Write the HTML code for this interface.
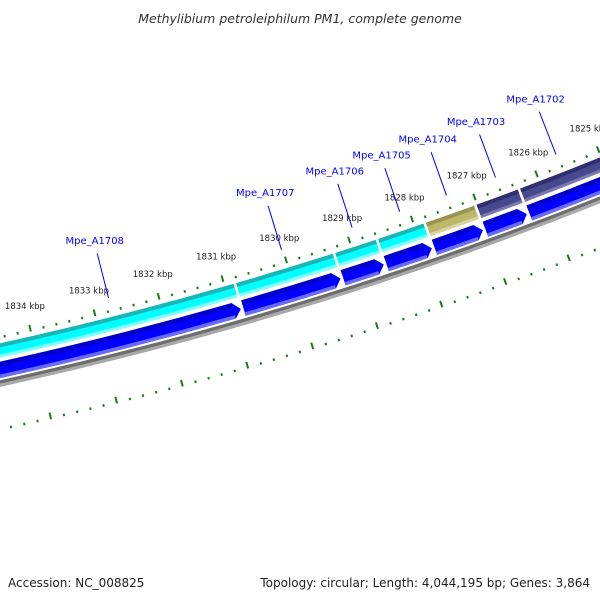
<!DOCTYPE html>
<html><head><meta charset="utf-8"><style>
html,body{margin:0;padding:0;background:#fff;width:600px;height:600px;overflow:hidden}
svg{display:block}
</style></head><body>
<svg id="map" width="600" height="600" viewBox="0 0 600 600" xmlns="http://www.w3.org/2000/svg" font-family="'DejaVu Sans','Liberation Sans',sans-serif">
<text x="300" y="23" text-anchor="middle" font-size="12.5" font-style="italic" fill="#333">Methylibium petroleiphilum PM1, complete genome</text>
<text x="8" y="587" font-size="12" fill="#222">Accession: NC_008825</text>
<text x="590" y="587" text-anchor="end" font-size="12" fill="#222">Topology: circular; Length: 4,044,195 bp; Genes: 3,864</text>
<g id="rings"></g>
</svg>
<script>
// data (kbp)
const geneNames = ['Mpe_A1708','Mpe_A1707','Mpe_A1706','Mpe_A1705','Mpe_A1704','Mpe_A1703','Mpe_A1702'];
const geneStarts = [1834.9, 1830.82, 1829.26, 1828.58, 1827.82, 1827.01, 1826.31];
const geneEnds = [1830.86, 1829.30, 1828.62, 1827.86, 1827.05, 1826.35, 1824.9];
const geneLabelAt = [1832.74, 1830.02, 1828.9, 1828.14, 1827.39, 1826.6, 1825.62];
const geneCategory = ['cyan','cyan','cyan','cyan','olive','purple','purple'];
const tickMajors = [1824,1825,1826,1827,1828,1829,1830,1831,1832,1833,1834,1835,1836];
const tickLabels = ['1824 kbp','1825 kbp','1826 kbp','1827 kbp','1828 kbp','1829 kbp','1830 kbp','1831 kbp','1832 kbp','1833 kbp','1834 kbp','1835 kbp','1836 kbp'];

const CX=-821, CY=-3370;
const NS='http://www.w3.org/2000/svg';
const g=document.getElementById('rings');
function ang(k){return (73.04+(k-1830))*Math.PI/180;}
function pt(k,r){const a=ang(k);return [CX+r*Math.cos(a),CY+r*Math.sin(a)];}
function f(p){return p[0].toFixed(2)+' '+p[1].toFixed(2);}
function sector(k1,k2,r1,r2){
  const a=pt(k1,r1),b=pt(k2,r1),c=pt(k2,r2),d=pt(k1,r2);
  return 'M'+f(a)+' A'+r1+' '+r1+' 0 0 0 '+f(b)+' L'+f(c)+' A'+r2+' '+r2+' 0 0 1 '+f(d)+' Z';
}
function add(tag,attrs,name){
  const el=document.createElementNS(NS,tag);
  for(const k in attrs)el.setAttribute(k,attrs[k]);
  
  
  g.appendChild(el);return el;
}
// backbone
add('path',{d:sector(1836,1823,3839,3842.5),fill:'#6e6e6e'},'backbone-dark');
add('path',{d:sector(1836,1823,3842.5,3845.5),fill:'#a8a8a8'},'backbone-light');
// ticks
function ticks(rDot,ring){
  for(let i=0;i<tickMajors.length-1;i++){
    for(let j=0;j<5;j++){
      const k=tickMajors[i]+j*0.2;
      const major=j===0;
      const r1=major?rDot-5.5:rDot-1.2, r2=rDot+1.3;
      const p1=pt(k,r1),p2=pt(k,r2);
      add('line',{x1:p1[0],y1:p1[1],x2:p2[0],y2:p2[1],stroke:'#1a7a1a','stroke-width':2},ring+(major?'-major-tick':'-minor-tick'));
    }
  }
}
ticks(3797,'outer');
ticks(3887,'inner');
for(let i=0;i<tickMajors.length;i++){
  const p=pt(tickMajors[i],3772);
  const t=add('text',{x:p[0],y:p[1]+3,'text-anchor':'middle','font-size':'8.5',fill:'#222'},'tick-label');
  t.textContent=tickLabels[i];
}
const catColors={cyan:['#1cb5b5','#00ffff','#80ffff'],olive:['#9a9450','#bdb76b','#d8d49c'],purple:['#2e2e70','#48488c','#7878b0']};
const tip=0.11;
for(let i=0;i<geneNames.length;i++){
  const s=geneStarts[i], e=geneEnds[i];
  const c=catColors[geneCategory[i]];
  add('path',{d:sector(s,e,3803,3817),fill:c[1]},'category-band-'+geneNames[i]);
  add('path',{d:sector(s,e,3803,3807),fill:c[0]},'category-band-top-stripe');
  add('path',{d:sector(s,e,3814,3817),fill:c[2]},'category-band-bottom-stripe');
  const r1=3821,r2=3837,rm=3829;
  const sh=e+tip;
  const a=pt(s,r1),b=pt(sh,r1),t=pt(e,rm),c2=pt(sh,r2),d=pt(s,r2);
  const path='M'+f(a)+' A'+r1+' '+r1+' 0 0 0 '+f(b)+' L'+f(t)+' L'+f(c2)+' A'+r2+' '+r2+' 0 0 1 '+f(d)+' Z';
  add('path',{d:path,fill:'#0000ff'},'gene-arrow-'+geneNames[i]);
  add('path',{d:sector(s,sh,3821,3825.5),fill:'#0000c8'},'gene-arrow-top-stripe');
  add('path',{d:sector(s,sh,3833.5,3837),fill:'#6a6aff'},'gene-arrow-bottom-stripe');
  const m=geneLabelAt[i];
  const l1=pt(m,3738),l2=pt(m,3784),lt=pt(m,3728);
  add('line',{x1:l1[0],y1:l1[1],x2:l2[0],y2:l2[1],stroke:'#0000ff','stroke-width':1},'gene-label-leader');
  const tx=add('text',{x:lt[0],y:lt[1],'text-anchor':'middle','font-size':'10',fill:'#0000ff'},'gene-label');
  tx.textContent=geneNames[i];
}
</script>
</body></html>
